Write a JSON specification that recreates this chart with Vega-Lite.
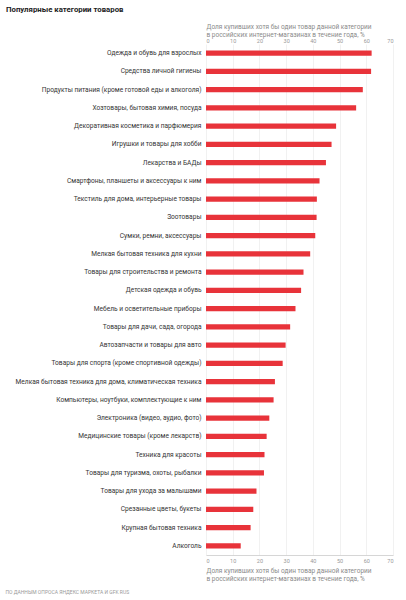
{
  "$schema": "https://vega.github.io/schema/vega-lite/v6.json",
  "autosize": "none",
  "width": 187,
  "height": 511,
  "padding": {"left": 206, "top": 44, "right": 13, "bottom": 45},
  "background": "white",
  "config": {
    "font": "Roboto",
    "view": {"stroke": null}
  },
  "title": {
    "text": "Популярные категории товаров",
    "anchor": "start",
    "frame": "group",
    "dx": -200,
    "dy": -6,
    "fontSize": 7.8,
    "fontWeight": "bold",
    "color": "#222222",
    "font": "Roboto"
  },
  "data": {
    "values": [
      {"category": "Одежда и обувь для взрослых", "share": 62},
      {"category": "Средства личной гигиены", "share": 61.8},
      {"category": "Продукты питания (кроме готовой еды и алкоголя)", "share": 58.7},
      {"category": "Хозтовары, бытовая химия, посуда", "share": 56.2},
      {"category": "Декоративная косметика и парфюмерия", "share": 48.7},
      {"category": "Игрушки и товары для хобби", "share": 47},
      {"category": "Лекарства и БАДы", "share": 44.9},
      {"category": "Смартфоны, планшеты и аксессуары к ним", "share": 42.5},
      {"category": "Текстиль для дома, интерьерные товары", "share": 41.5},
      {"category": "Зоотовары", "share": 41.4},
      {"category": "Сумки, ремни, аксессуары", "share": 40.9},
      {"category": "Мелкая бытовая техника для кухни", "share": 39},
      {"category": "Товары для строительства и ремонта", "share": 36.5},
      {"category": "Детская одежда и обувь", "share": 35.6},
      {"category": "Мебель и осветительные приборы", "share": 33.5},
      {"category": "Товары для дачи, сада, огорода", "share": 31.5},
      {"category": "Автозапчасти и товары для авто", "share": 29.8},
      {"category": "Товары для спорта (кроме спортивной одежды)", "share": 28.7},
      {"category": "Мелкая бытовая техника для дома, климатическая техника", "share": 25.8},
      {"category": "Компьютеры, ноутбуки, комплектующие к ним", "share": 25.3},
      {"category": "Электроника (видео, аудио, фото)", "share": 23.7},
      {"category": "Медицинские товары (кроме лекарств)", "share": 22.7},
      {"category": "Техника для красоты", "share": 21.9},
      {"category": "Товары для туризма, охоты, рыбалки", "share": 21.7},
      {"category": "Товары для ухода за малышами", "share": 18.9},
      {"category": "Срезанные цветы, букеты", "share": 17.7},
      {"category": "Крупная бытовая техника", "share": 16.7},
      {"category": "Алкоголь", "share": 13}
    ]
  },
  "layer": [
    {
      "mark": {"type": "bar", "color": "#e8333a"},
      "encoding": {
        "y": {
          "field": "category",
          "type": "nominal",
          "sort": null,
          "scale": {"paddingInner": 0.7, "paddingOuter": 0.35},
          "axis": {
            "title": "ПО ДАННЫМ ОПРОСА ЯНДЕКС МАРКЕТА И GFK RUS",
            "titleAngle": 0,
            "titleX": -201,
            "titleY": 547,
            "titleAlign": "left",
            "titleBaseline": "middle",
            "titleFontSize": 5,
            "titleFontWeight": "normal",
            "titleColor": "#9a9a9a",
            "titleFont": "Roboto",
            "domain": false,
            "ticks": false,
            "labelPadding": 5,
            "labelFontSize": 6.6,
            "labelColor": "#333333",
            "labelFont": "Roboto",
            "labelLimit": 300
          }
        },
        "x": {
          "field": "share",
          "type": "quantitative",
          "scale": {"domain": [0, 70], "nice": false},
          "axis": {
            "orient": "bottom",
            "values": [0, 10, 20, 30, 40, 50, 60, 70],
            "title": ["Доля купивших хотя бы один товар данной категории", "в российских интернет-магазинах в течение года, %"],
            "titleAnchor": "start",
            "titleAlign": "left",
            "titleFontSize": 6.5,
            "titleFontWeight": "normal",
            "titleColor": "#8a8a8a",
            "titlePadding": 4,
            "titleFont": "Roboto",
            "titleLineHeight": 7.5,
            "domain": true,
            "domainColor": "#cccccc",
            "domainWidth": 0.8,
            "ticks": false,
            "labelPadding": 3,
            "labelFontSize": 5.5,
            "labelColor": "#999999",
            "labelFont": "Roboto",
            "grid": true,
            "gridColor": "#eeeeee",
            "gridWidth": 0.8
          }
        }
      }
    },
    {
      "mark": {"type": "bar", "opacity": 0},
      "encoding": {
        "y": {"field": "category", "type": "nominal", "sort": null},
        "x": {
          "field": "share",
          "type": "quantitative",
          "axis": {
            "orient": "top",
            "values": [0, 10, 20, 30, 40, 50, 60, 70],
            "title": ["Доля купивших хотя бы один товар данной категории", "в российских интернет-магазинах в течение года, %"],
            "titleAnchor": "start",
            "titleAlign": "left",
            "titleFontSize": 6.5,
            "titleFontWeight": "normal",
            "titleColor": "#8a8a8a",
            "titlePadding": 1,
            "titleFont": "Roboto",
            "titleLineHeight": 7.5,
            "domain": false,
            "ticks": false,
            "labelPadding": 1,
            "labelFontSize": 5.5,
            "labelColor": "#999999",
            "labelFont": "Roboto",
            "grid": false
          }
        }
      }
    }
  ],
  "resolve": {"axis": {"x": "independent"}}
}
